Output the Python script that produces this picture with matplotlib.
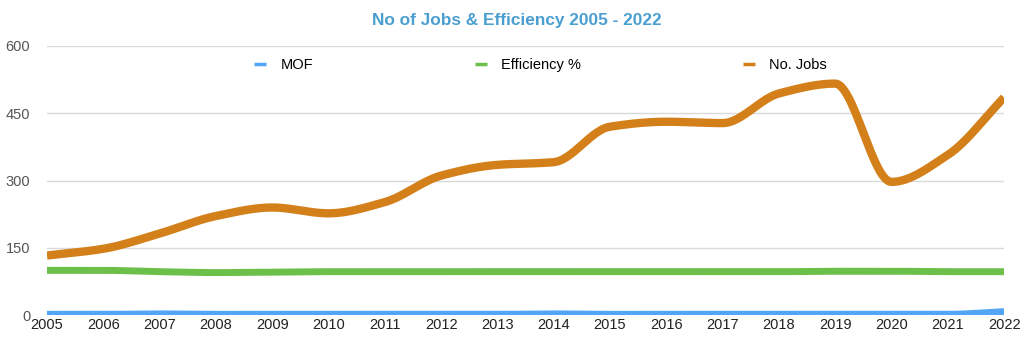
import numpy as np
import matplotlib.pyplot as plt

plt.rcParams["font.family"] = ["Liberation Sans", "DejaVu Sans"]

# Chart data
years = list(range(2005, 2023))
mof = [2, 2, 3, 2, 2, 2, 2, 2, 2, 3, 2, 2, 2, 2, 2, 2, 2, 8]
efficiency = [100, 100, 97, 95, 96, 97, 97, 97, 97, 97, 97, 97, 97, 97, 98, 98, 97, 97]
jobs = [133, 148, 182, 221, 240, 227, 252, 311, 335, 341, 420, 431, 428, 494, 516, 297, 357, 485]

series_names = ["MOF", "Efficiency %", "No. Jobs"]
colors = ["#52a6f5", "#6cc04a", "#d4801a"]


# Monotone cubic curve through the points (no overshoot), like the original chart
def smooth(x, y, steps=30):
    x = np.asarray(x, dtype=float)
    y = np.asarray(y, dtype=float)
    h = np.diff(x)
    d = np.diff(y) / h
    m = np.zeros_like(y)
    m[0], m[-1] = d[0], d[-1]
    for i in range(1, len(y) - 1):
        if d[i - 1] * d[i] > 0:
            m[i] = 2 / (1 / d[i - 1] + 1 / d[i])
    xs, ys = [], []
    t = np.linspace(0, 1, steps, endpoint=False)
    for i in range(len(x) - 1):
        h00 = 2 * t ** 3 - 3 * t ** 2 + 1
        h10 = t ** 3 - 2 * t ** 2 + t
        h01 = -2 * t ** 3 + 3 * t ** 2
        h11 = t ** 3 - t ** 2
        xs.extend(x[i] + t * h[i])
        ys.extend(h00 * y[i] + h10 * h[i] * m[i] + h01 * y[i + 1] + h11 * h[i] * m[i + 1])
    xs.append(x[-1])
    ys.append(y[-1])
    return np.array(xs), np.array(ys)


fig = plt.figure(figsize=(10.33, 3.53), dpi=100)
ax = fig.add_axes([0.0455, 0.107, 0.9265, 0.763])

for values, name, color, lw in zip([mof, efficiency, jobs], series_names, colors, [5, 5, 6]):
    sx, sy = smooth(years, values)
    ax.plot(sx, sy, color=color, lw=lw, label=name, solid_capstyle="butt", zorder=3)

ax.set_xlim(2005, 2022)
ax.set_ylim(0, 600)
ax.set_yticks([0, 150, 300, 450, 600])
ax.set_xticks(years)
ax.grid(axis="y", color="#d9d9d9", lw=1)
ax.set_axisbelow(True)
for s in ax.spines.values():
    s.set_visible(False)
ax.tick_params(axis="y", length=0, labelsize=10.5, labelcolor="#555555", pad=12)
ax.tick_params(axis="x", length=0, labelsize=10.5, labelcolor="#222222", pad=2)

fig.suptitle("No of Jobs & Efficiency 2005 - 2022", y=0.962, fontsize=12.4,
             fontweight="bold", color="#4a9fd0")

leg = ax.legend(loc="center", bbox_to_anchor=(0.516, 0.928), ncol=3, frameon=False,
                fontsize=10.5, handlelength=0.8, handletextpad=1.0, columnspacing=11.1)
for h in leg.legend_handles:
    h.set_linewidth(2.5)

fig.savefig("out.png", dpi=100)
